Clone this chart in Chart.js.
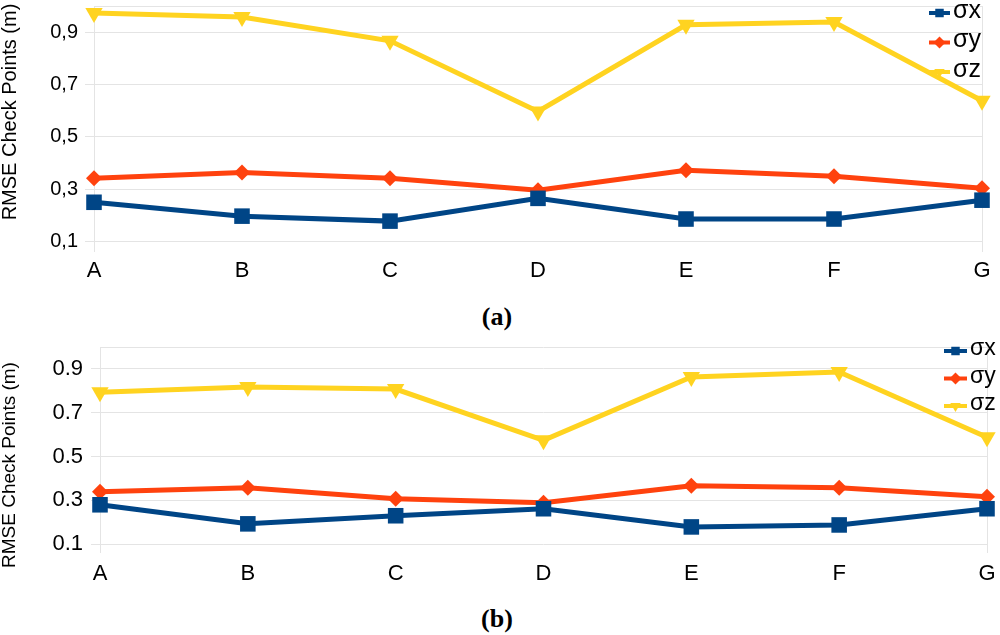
<!DOCTYPE html>
<html>
<head>
<meta charset="utf-8">
<script src="https://cdn.jsdelivr.net/npm/chart.js@4.4.1/dist/chart.umd.min.js"></script>
<style>
  html, body { margin: 0; padding: 0; background: #fff; }
  body { width: 1000px; height: 635px; position: relative; overflow: hidden; }
  .box { position: absolute; left: 0; width: 1000px; }
  #boxA { top: -5px; height: 302px; }
  #boxB { top: 335px; height: 265px; }
  .cap { position: absolute; left: 0; width: 994px; text-align: center;
         font: bold 26px "Liberation Serif", "Times New Roman", serif; color: #000; }
</style>
</head>
<body>
<div class="box" id="boxA"><canvas id="chartA"></canvas></div>
<div class="cap" style="top:302px">(a)</div>
<div class="box" id="boxB"><canvas id="chartB"></canvas></div>
<div class="cap" style="top:604px">(b)</div>
<script>
// Data
const categories = ['A', 'B', 'C', 'D', 'E', 'F', 'G'];
const tickValues = [0.1, 0.3, 0.5, 0.7, 0.9, 1.0];

const sigmaXa = [0.250, 0.197, 0.178, 0.265, 0.186, 0.186, 0.258];
const sigmaYa = [0.342, 0.364, 0.342, 0.296, 0.372, 0.349, 0.304];
const sigmaZa = [0.973, 0.958, 0.867, 0.597, 0.928, 0.939, 0.638];

const sigmaXb = [0.280, 0.193, 0.230, 0.262, 0.179, 0.188, 0.262];
const sigmaYb = [0.340, 0.358, 0.308, 0.289, 0.367, 0.358, 0.317];
const sigmaZb = [0.794, 0.817, 0.808, 0.574, 0.863, 0.886, 0.588];

const COLORS = {
    x: '#004586',
    y: '#ff420e',
    z: '#ffd320',
    grid: '#e4e4e4'
};
const FONT = '"Liberation Sans", Arial, sans-serif';
const Y_TITLE = 'RMSE Check Points (m)';

// legend drawn inside the plot, top right, plus the rotated y title
const insideLegend = {
    id: 'insideLegend',
    afterDatasetsDraw(chart, args, opts) {
        const ctx = chart.ctx;
        ctx.save();
        chart.data.datasets.forEach((ds, i) => {
            const y = opts.y + i * opts.gap;
            ctx.strokeStyle = ds.borderColor;
            ctx.lineWidth = 4;
            ctx.beginPath();
            ctx.moveTo(opts.x, y);
            ctx.lineTo(opts.x + opts.len, y);
            ctx.stroke();
            ctx.fillStyle = ds.borderColor;
            Chart.helpers.drawPoint(ctx, {
                pointStyle: ds.pointStyle,
                rotation: ds.rotation || 0,
                radius: opts.r,
                borderWidth: 0
            }, opts.x + opts.len / 2, y);
            ctx.fillStyle = '#000';
            ctx.font = opts.size + 'px ' + FONT;
            ctx.textBaseline = 'middle';
            ctx.textAlign = 'left';
            ctx.fillText(ds.label, opts.x + opts.len + 3, y - 2);
        });
        // y axis title
        ctx.translate(opts.titleX, opts.titleY);
        ctx.rotate(-Math.PI / 2);
        ctx.font = opts.titleSize + 'px ' + FONT;
        ctx.textAlign = 'center';
        ctx.textBaseline = 'middle';
        ctx.fillStyle = '#000';
        ctx.fillText(Y_TITLE, 0, 0);
        ctx.restore();
    }
};

function makeDatasets(xs, ys, zs) {
    const base = { borderWidth: 5, tension: 0, clip: false, fill: false };
    return [
        { ...base, label: 'σx', data: xs, borderColor: COLORS.x, backgroundColor: COLORS.x,
          pointStyle: 'rect', pointRadius: 11, pointBorderWidth: 0 },
        { ...base, label: 'σy', data: ys, borderColor: COLORS.y, backgroundColor: COLORS.y,
          pointStyle: 'rectRot', pointRadius: 8, pointBorderWidth: 0 },
        { ...base, label: 'σz', data: zs, borderColor: COLORS.z, backgroundColor: COLORS.z,
          pointStyle: 'triangle', rotation: 180, pointRadius: 10, pointBorderWidth: 0 }
    ];
}

function makeChart(id, sets, cfg) {
    return new Chart(document.getElementById(id), {
        type: 'line',
        data: { labels: categories, datasets: sets },
        options: {
            responsive: true,
            maintainAspectRatio: false,
            animation: false,
            layout: { padding: { top: cfg.padTop, right: cfg.padRight, left: 0, bottom: 0 } },
            plugins: {
                legend: { display: false },
                tooltip: { enabled: false },
                insideLegend: cfg.legend
            },
            scales: {
                x: {
                    offset: false,
                    border: { display: false },
                    grid: {
                        drawTicks: false,
                        color: (c) => (c.index === 0 || c.index === categories.length - 1) ? COLORS.grid : 'rgba(0,0,0,0)'
                    },
                    ticks: { color: '#000', padding: cfg.xPad, font: { family: FONT, size: 22 } },
                    afterFit: (s) => {
                        s.height = cfg.xHeight;
                        s.paddingLeft = 0;
                        s.paddingRight = 0;
                    }
                },
                y: {
                    min: 0.06,
                    max: 1.0,
                    border: { display: false },
                    afterBuildTicks: (s) => { s.ticks = tickValues.map(v => ({ value: v })); },
                    afterFit: (s) => {
                        s.width = cfg.yWidth;
                        s.paddingTop = 0;
                        s.paddingBottom = 0;
                    },
                    grid: {
                        color: COLORS.grid,
                        tickLength: 9,
                        tickColor: (c) => (c.tick && c.tick.value >= 1.0) ? 'rgba(0,0,0,0)' : COLORS.grid
                    },
                    ticks: {
                        color: '#000',
                        padding: cfg.yPad,
                        font: { family: FONT, size: cfg.ySize },
                        callback: (v) => v >= 1.0 ? '' : cfg.fmt(v)
                    }
                }
            }
        },
        plugins: [insideLegend]
    });
}

makeChart('chartA', makeDatasets(sigmaXa, sigmaYa, sigmaZa), {
    padTop: 3, padRight: 18, xHeight: 45, yWidth: 94, xPad: 6, yPad: 7, ySize: 20,
    fmt: (v) => v.toFixed(1).replace('.', ','),
    legend: { x: 929, len: 21, y: 18, gap: 29.5, r: 6, size: 25,
              titleX: 10, titleY: 117, titleSize: 20 }
});

makeChart('chartB', makeDatasets(sigmaXb, sigmaYb, sigmaZb), {
    padTop: 12, padRight: 13, xHeight: 47, yWidth: 100, xPad: 8, yPad: 8, ySize: 22,
    fmt: (v) => v.toFixed(1),
    legend: { x: 944, len: 23, y: 16, gap: 27.5, r: 6, size: 23,
              titleX: 10, titleY: 130, titleSize: 19 }
});
</script>
</body>
</html>
